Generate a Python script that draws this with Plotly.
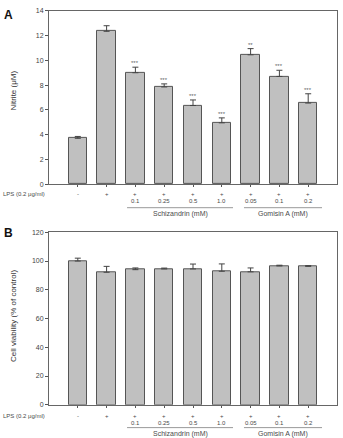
import plotly.graph_objects as go

W, H = 343, 438
positions = [1, 2, 3, 4, 5, 6, 7, 8, 9]
lps_signs = ["-", "+", "+", "+", "+", "+", "+", "+", "+"]
doses = ["", "", "0.1", "0.25", "0.5", "1.0", "0.05", "0.1", "0.2"]
nitrite = [3.7, 12.35, 9.0, 7.85, 6.35, 4.95, 10.45, 8.7, 6.55]
nitrite_err = [0.15, 0.45, 0.45, 0.25, 0.45, 0.4, 0.5, 0.5, 0.75]
nitrite_sig = ["", "", "***", "***", "***", "***", "**", "***", "***"]
viability = [100.0, 92.2, 94.0, 94.5, 94.5, 92.9, 92.5, 96.6, 96.3]
viability_err = [2.0, 4.1, 1.2, 0.6, 3.4, 5.1, 2.7, 0.5, 0.5]
groups = [("Schizandrin (mM)", 2.71, 6.39), ("Gomisin A (mM)", 6.77, 9.48)]

FONT = "Arial, Liberation Sans, sans-serif"
TXT = "#4a4a4a"

def py(px):
    return 1 - px / H

fig = go.Figure()
for vals, errs, ax in [(nitrite, nitrite_err, "y"), (viability, viability_err, "y2")]:
    fig.add_trace(go.Bar(
        x=positions, y=vals, width=0.64, yaxis=ax, xaxis="x" if ax == "y" else "x2",
        marker=dict(color="#c0c0c0", line=dict(color="#555", width=1)),
        error_y=dict(type="data", array=errs, arrayminus=[0] * 9, symmetric=False,
                     color="#444", thickness=1, width=3),
        showlegend=False))

xd = [49 / W, 337 / W]
common_x = dict(range=[0, 10], domain=xd, showgrid=False, zeroline=False,
                tickvals=positions, ticktext=[""] * 9, ticks="outside", ticklen=2,
                tickcolor="#555", showline=True, linecolor="#666", linewidth=1, mirror=True)
common_y = dict(showgrid=False, zeroline=False, ticks="outside", ticklen=3, tickcolor="#555",
                showline=True, linecolor="#666", linewidth=1, mirror=True,
                tickfont=dict(size=7, color="#444", family=FONT))
fig.update_layout(
    width=W, height=H, margin=dict(l=0, r=0, t=0, b=0),
    plot_bgcolor="white", paper_bgcolor="white", bargap=0,
    xaxis=dict(**common_x, anchor="y"),
    xaxis2=dict(**common_x, anchor="y2"),
    yaxis=dict(**common_y, range=[0, 14], dtick=2, domain=[py(183), py(7)], anchor="x"),
    yaxis2=dict(**common_y, range=[0, 120], dtick=20, domain=[py(407.3), py(232)], anchor="x2"),
)

ann = []
shapes = []
for (xr, yr, vals, errs, sig, ylps, ydose, yline, ylab, title, letter, ylet, ytitle) in [
    ("x", "y", nitrite, nitrite_err, nitrite_sig, 192.7, 200.7, 207, 213.5, "Nitrite (μM)", "A", 11, 88),
    ("x2", "y2", viability, viability_err, [""] * 9, 418.3, 425.3, 430.5, 437, "Cell viability (% of control)", "B", 233, 317),
]:
    ann.append(dict(xref="paper", yref="paper", x=47 / W, y=py(ylps), text="LPS (0.2 μg/ml)",
                    showarrow=False, xanchor="right", yanchor="middle",
                    font=dict(size=6, color=TXT, family=FONT)))
    for p, s, d in zip(positions, lps_signs, doses):
        ann.append(dict(xref=xr, yref="paper", x=p, y=py(ylps), text=s, showarrow=False,
                        yanchor="middle", font=dict(size=6, color=TXT, family=FONT)))
        if d:
            ann.append(dict(xref=xr, yref="paper", x=p, y=py(ydose), text=d, showarrow=False,
                            yanchor="middle", font=dict(size=6, color=TXT, family=FONT)))
    for name, x0, x1 in groups:
        shapes.append(dict(type="line", xref=xr, yref="paper", x0=x0, x1=x1, y0=py(yline), y1=py(yline),
                           line=dict(color="#999", width=1)))
        ann.append(dict(xref=xr, yref="paper", x=(x0 + x1) / 2, y=py(ylab), text=name, showarrow=False,
                        yanchor="middle", font=dict(size=7, color=TXT, family=FONT)))
    for p, v, e, s in zip(positions, vals, errs, sig):
        if s:
            ann.append(dict(xref=xr, yref=yr, x=p, y=v + e, text=s, showarrow=False,
                            yanchor="bottom", yshift=-1, font=dict(size=6, color="#666", family=FONT)))
    ann.append(dict(xref="paper", yref="paper", x=2 / W, y=py(ylet), text="<b>" + letter + "</b>",
                    showarrow=False, xanchor="left", yanchor="middle",
                    font=dict(size=12, color="#111", family=FONT)))
    ann.append(dict(xref="paper", yref="paper", x=14 / W, y=py(ytitle), text=title, textangle=-90,
                    showarrow=False, xanchor="center", yanchor="middle",
                    font=dict(size=8, color="#333", family=FONT)))

fig.update_layout(annotations=ann, shapes=shapes)
fig.write_html("out.html")
